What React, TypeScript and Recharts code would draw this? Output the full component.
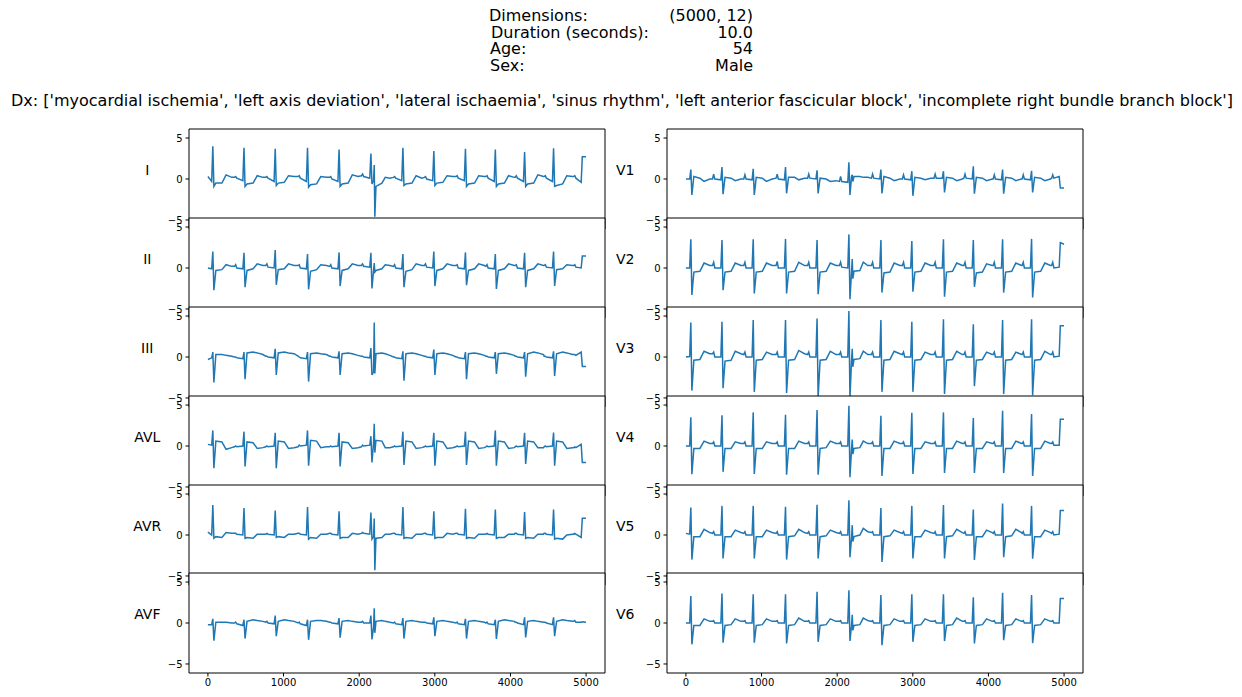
import React from 'react';
import { LineChart, Line, XAxis, YAxis, CartesianGrid, ReferenceArea } from 'recharts';

// sample indices of the traced knots, one row per beat (500 Hz, 5000 samples)
const sampleKnots = [
  [0, 50, 65, 79, 105, 185, 240, 315],
  [352, 367, 382, 462, 477, 491, 517, 597, 652, 727],
  [765, 780, 795, 875, 890, 904, 930, 1010, 1065, 1140],
  [1192, 1207, 1222, 1302, 1317, 1331, 1357, 1437, 1492, 1567],
  [1609, 1624, 1639, 1719, 1734, 1748, 1774, 1854, 1909, 1984],
  [2030, 2045, 2060, 2140, 2155, 2169, 2190, 2199, 2207, 2222, 2300, 2345, 2405],
  [2453, 2468, 2483, 2563, 2578, 2592, 2618, 2698, 2753, 2828],
  [2862, 2877, 2892, 2972, 2987, 3001, 3027, 3107, 3162, 3237],
  [3280, 3295, 3310, 3390, 3405, 3419, 3445, 3525, 3580, 3655],
  [3675, 3690, 3705, 3785, 3800, 3814, 3840, 3920, 3975, 4050],
  [4062, 4077, 4092, 4172, 4187, 4201, 4227, 4307, 4362, 4437],
  [4445, 4460, 4475, 4555, 4570, 4584, 4610, 4690, 4745, 4820],
  [4835, 4850, 4865, 4935, 4950, 4999],
];

const leadI = [
  [0.3, -0.3, 4.0, -0.9, -0.5, -0.5, 0.5, 0.2],
  [0.2, 0.3, 0.1, -0.2, 3.8, -0.9, -0.6, -0.5, 0.4, 0.2],
  [0.2, 0.3, 0.1, -0.3, 3.7, -0.8, -0.5, -0.4, 0.4, 0.3],
  [0.3, 0.4, 0.1, -0.3, 3.8, -1.0, -0.7, -0.6, 0.3, 0.2],
  [0.2, 0.3, 0.0, -0.3, 3.6, -0.9, -0.6, -0.5, 0.5, 0.3],
  [0.4, 0.6, 0.3, 0.1, 3.1, -0.6, -0.2, 1.7, -4.6, -0.9, -0.5, 0.2, 0.1],
  [0.2, 0.3, 0.1, -0.2, 3.8, -0.8, -0.6, -0.5, 0.4, 0.1],
  [0.2, 0.3, 0.0, -0.2, 3.4, -0.8, -0.5, -0.4, 0.4, 0.3],
  [0.3, 0.4, 0.1, -0.2, 3.7, -0.9, -0.6, -0.5, 0.4, 0.3],
  [0.3, 0.4, 0.1, -0.3, 3.6, -0.9, -0.6, -0.5, 0.4, 0.2],
  [0.2, 0.4, 0.1, -0.3, 3.3, -0.9, -0.6, -0.5, 0.5, 0.3],
  [0.3, 0.4, 0.1, -0.3, 3.75, -0.9, -0.8, -0.6, 0.4, 0.3],
  [0.3, 0.4, 0.1, -0.4, 2.7, 2.7],
];

const leadII = [
  [0.0, -0.1, 2.0, -2.7, -0.3, -0.2, 0.4, 0.2],
  [0.2, 0.4, 0.0, -0.1, 1.85, -2.35, -0.3, -0.1, 0.5, 0.3],
  [0.3, 0.5, 0.1, 0.0, 2.2, -2.05, -0.2, -0.1, 0.5, 0.3],
  [0.3, 0.4, 0.0, -0.1, 1.7, -2.6, -0.4, -0.2, 0.4, 0.3],
  [0.2, 0.4, 0.0, -0.1, 1.9, -2.2, -0.3, -0.1, 0.5, 0.3],
  [0.3, 0.5, 0.2, 0.1, 1.85, -2.5, -0.3, 0.6, -0.5, -0.3, -0.1, 0.4, 0.3],
  [0.2, 0.4, 0.0, -0.1, 1.7, -2.35, -0.4, -0.2, 0.5, 0.3],
  [0.3, 0.5, 0.1, 0.0, 2.0, -2.2, -0.3, -0.1, 0.5, 0.3],
  [0.3, 0.4, 0.0, -0.1, 1.9, -2.1, -0.3, -0.1, 0.5, 0.3],
  [0.2, 0.4, 0.0, -0.1, 1.7, -2.55, -0.3, -0.1, 0.5, 0.3],
  [0.3, 0.4, 0.0, -0.1, 1.85, -2.35, -0.3, -0.1, 0.5, 0.3],
  [0.3, 0.4, 0.1, 0.0, 2.0, -2.2, -0.2, -0.1, 0.4, 0.3],
  [0.3, 0.4, 0.1, 0.0, 1.45, 1.45],
];

const leadIII = [
  [-0.3, -0.1, 0.6, -3.1, 0.3, 0.3, 0.2, 0.1],
  [0.0, 0.0, -0.1, -0.2, 0.6, -2.7, 0.5, 0.6, 0.5, 0.3],
  [0.1, 0.1, 0.0, -0.1, 1.0, -2.2, 0.5, 0.6, 0.5, 0.4],
  [0.1, 0.0, -0.1, -0.2, 0.6, -3.0, 0.4, 0.5, 0.4, 0.3],
  [0.1, 0.1, 0.0, -0.1, 0.7, -2.2, 0.4, 0.5, 0.4, 0.2],
  [0.1, 0.1, 0.0, -0.1, 1.1, -2.2, -1.8, 4.2, -2.0, 0.4, 0.5, 0.4, 0.2],
  [0.0, 0.0, -0.1, -0.2, 0.7, -2.9, 0.4, 0.5, 0.4, 0.2],
  [0.1, 0.1, 0.0, -0.1, 0.9, -2.2, 0.4, 0.5, 0.4, 0.2],
  [0.0, 0.0, -0.1, -0.2, 0.6, -2.7, 0.4, 0.5, 0.4, 0.2],
  [0.1, 0.1, 0.0, -0.1, 0.6, -2.05, 0.4, 0.5, 0.4, 0.2],
  [0.1, 0.1, 0.0, -0.1, 0.6, -2.4, 0.4, 0.6, 0.5, 0.3],
  [0.1, 0.1, 0.0, -0.1, 0.7, -2.3, 0.4, 0.6, 0.5, 0.3],
  [0.3, 0.3, 0.2, 0.6, -1.15, -1.15],
];

const leadAVL = [
  [0.2, 0.1, 1.9, -2.7, 0.6, 0.5, -0.4, -0.2],
  [-0.1, 0.0, -0.1, 0.0, 1.75, -2.5, 0.5, 0.4, -0.3, -0.2],
  [-0.1, 0.0, -0.1, 0.0, 1.6, -2.7, 0.6, 0.5, -0.3, -0.2],
  [-0.1, 0.1, 0.0, 0.1, 1.9, -2.4, 0.7, 0.6, -0.2, -0.1],
  [-0.1, 0.0, -0.1, 0.0, 1.6, -2.5, 0.5, 0.4, -0.3, -0.2],
  [-0.1, 0.1, 0.0, 0.1, 1.2, -2.0, 0.4, 2.7, -0.8, 0.7, 0.6, -0.2, -0.2],
  [-0.1, 0.0, -0.1, 0.0, 1.75, -2.3, 0.6, 0.5, -0.3, -0.2],
  [-0.1, 0.0, -0.1, 0.0, 1.6, -2.4, 0.6, 0.5, -0.3, -0.2],
  [-0.1, 0.0, -0.1, 0.0, 1.75, -2.3, 0.6, 0.5, -0.3, -0.2],
  [-0.1, 0.0, -0.1, 0.0, 1.9, -2.4, 0.6, 0.5, -0.3, -0.2],
  [-0.1, 0.0, -0.1, 0.0, 1.6, -2.2, 0.6, 0.5, -0.2, -0.2],
  [-0.1, 0.0, -0.1, 0.0, 1.65, -2.4, 0.6, 0.5, -0.3, -0.2],
  [-0.2, -0.1, -0.2, 0.2, -2.0, -2.0],
];

const leadAVR = [
  [0.35, 0.0, 3.65, -0.4, -0.2, -0.3, 0.3, 0.2],
  [0.2, 0.2, 0.1, 0.0, 3.3, -0.4, -0.3, -0.4, 0.1, 0.1],
  [0.1, 0.2, 0.1, 0.0, 3.0, -0.3, -0.2, -0.3, 0.1, 0.1],
  [0.2, 0.2, 0.1, 0.0, 3.4, -0.5, -0.3, -0.4, 0.1, 0.1],
  [0.2, 0.2, 0.1, 0.0, 2.9, -0.4, -0.3, -0.3, 0.2, 0.1],
  [0.2, 0.3, 0.2, 0.1, 2.75, -0.5, -0.2, 2.0, -4.3, -0.4, -0.3, 0.1, 0.1],
  [0.2, 0.2, 0.1, 0.0, 3.4, -0.4, -0.3, -0.4, 0.1, 0.1],
  [0.2, 0.2, 0.1, 0.0, 2.9, -0.4, -0.3, -0.3, 0.2, 0.1],
  [0.2, 0.2, 0.1, 0.0, 3.2, -0.4, -0.3, -0.4, 0.1, 0.1],
  [0.1, 0.2, 0.1, 0.0, 3.1, -0.4, -0.3, -0.3, 0.1, 0.1],
  [0.2, 0.2, 0.1, 0.0, 2.8, -0.4, -0.3, -0.4, 0.1, 0.1],
  [0.2, 0.2, 0.1, 0.0, 3.1, -0.5, -0.4, -0.5, 0.0, 0.1],
  [0.1, 0.2, 0.1, -0.3, 2.05, 2.05],
];

const leadAVF = [
  [-0.2, -0.2, 0.5, -2.15, 0.1, 0.1, 0.1, 0.0],
  [0.0, 0.1, -0.1, -0.3, 0.4, -1.9, 0.2, 0.4, 0.3, 0.2],
  [0.1, 0.2, 0.0, -0.1, 0.9, -1.6, 0.2, 0.4, 0.3, 0.2],
  [0.0, 0.1, -0.1, -0.3, 0.4, -2.05, 0.2, 0.3, 0.3, 0.2],
  [0.1, 0.1, 0.0, -0.1, 0.6, -1.8, 0.2, 0.3, 0.2, 0.1],
  [0.1, 0.2, 0.0, 0.0, 0.9, -2.0, -0.5, 1.8, -1.2, 0.2, 0.3, 0.2, 0.1],
  [0.0, 0.1, -0.1, -0.2, 0.6, -1.9, 0.2, 0.3, 0.2, 0.1],
  [0.1, 0.1, 0.0, -0.1, 0.7, -1.6, 0.2, 0.3, 0.2, 0.1],
  [0.0, 0.1, -0.1, -0.2, 0.5, -1.9, 0.2, 0.3, 0.2, 0.1],
  [0.0, 0.1, -0.1, -0.2, 0.4, -1.95, 0.2, 0.4, 0.3, 0.2],
  [0.1, 0.1, 0.0, -0.2, 0.7, -1.75, 0.2, 0.3, 0.2, 0.1],
  [0.1, 0.1, 0.0, -0.2, 0.7, -1.6, 0.2, 0.4, 0.3, 0.2],
  [0.2, 0.3, 0.1, 0.1, 0.15, 0.1],
];

const leadV1 = [
  [0.0, 0.0, 1.15, -1.95, 0.3, 0.1, -0.3, 0.0],
  [0.0, 0.6, 0.0, -0.1, 1.45, -1.85, 0.2, 0.1, -0.2, 0.0],
  [0.0, 0.5, 0.0, -0.1, 1.25, -1.95, 0.2, 0.1, -0.3, 0.0],
  [0.1, 0.6, 0.0, -0.1, 1.45, -1.75, 0.2, 0.2, -0.1, 0.1],
  [0.1, 0.6, 0.1, 0.0, 1.05, -1.75, 0.1, 0.0, -0.3, -0.2],
  [-0.3, 0.3, -0.3, -0.4, 2.05, -1.95, 0.3, 0.5, -0.3, 0.3, 0.3, 0.2, 0.2],
  [0.1, 0.6, 0.1, 0.0, 1.15, -1.75, 0.3, 0.1, -0.2, 0.0],
  [0.0, 0.5, 0.0, -0.1, 0.95, -2.05, 0.2, 0.1, -0.1, 0.1],
  [0.1, 0.6, 0.1, 0.1, 0.95, -1.65, 0.2, 0.1, -0.2, 0.0],
  [0.1, 0.6, 0.1, 0.0, 1.55, -1.8, 0.2, 0.1, -0.2, 0.0],
  [0.0, 0.5, 0.0, -0.1, 1.15, -1.8, 0.2, 0.1, -0.2, 0.0],
  [0.0, 0.5, 0.0, -0.1, 1.0, -1.65, 0.2, 0.1, -0.2, 0.0],
  [0.1, 0.5, 0.1, 0.3, -1.1, -1.1],
];

const leadV2 = [
  [0.0, 0.0, 3.5, -3.3, -0.5, -0.4, 0.6, 0.3],
  [0.3, 0.7, 0.0, 0.0, 3.4, -2.7, -0.5, -0.4, 0.6, 0.3],
  [0.3, 0.7, 0.0, 0.0, 3.5, -3.1, -0.5, -0.4, 0.6, 0.3],
  [0.3, 0.8, 0.0, 0.0, 3.55, -3.1, -0.5, -0.4, 0.7, 0.3],
  [0.3, 0.7, 0.0, 0.0, 3.4, -3.2, -0.5, -0.4, 0.6, 0.3],
  [0.3, 0.7, 0.1, 0.0, 4.1, -3.8, -0.4, 1.1, -1.3, -0.4, -0.3, 0.7, 0.3],
  [0.3, 0.7, 0.0, 0.0, 3.4, -3.0, -0.6, -0.5, 0.6, 0.3],
  [0.3, 0.7, 0.0, 0.0, 3.3, -2.9, -0.5, -0.4, 0.6, 0.3],
  [0.3, 0.7, 0.0, 0.0, 3.5, -3.5, -0.5, -0.4, 0.6, 0.3],
  [0.3, 0.7, 0.0, 0.0, 3.4, -2.3, -0.6, -0.5, 0.5, 0.3],
  [0.3, 0.7, 0.0, 0.0, 3.5, -3.0, -0.5, -0.4, 0.6, 0.3],
  [0.3, 0.7, 0.0, 0.0, 3.55, -3.6, -0.5, -0.4, 0.6, 0.3],
  [0.3, 0.7, 0.0, 0.1, 3.1, 2.9],
];

const leadV3 = [
  [0.0, 0.05, 4.2, -4.1, -0.4, -0.3, 0.7, 0.4],
  [0.4, 0.6, 0.0, 0.0, 4.3, -3.8, -0.5, -0.4, 0.7, 0.4],
  [0.3, 0.6, 0.0, 0.0, 4.5, -4.25, -0.4, -0.3, 0.6, 0.3],
  [0.3, 0.6, 0.0, 0.0, 4.5, -4.4, -0.4, -0.3, 0.8, 0.4],
  [0.3, 0.6, 0.0, 0.0, 4.7, -4.9, -0.4, -0.3, 0.7, 0.3],
  [0.3, 0.6, 0.0, 0.0, 5.6, -5.0, -0.3, 1.0, -1.2, -0.3, -0.2, 0.7, 0.3],
  [0.3, 0.6, 0.0, 0.0, 4.5, -4.25, -0.4, -0.3, 0.7, 0.4],
  [0.3, 0.6, 0.0, 0.0, 4.3, -4.25, -0.4, -0.3, 0.6, 0.3],
  [0.3, 0.6, 0.0, 0.0, 4.6, -4.5, -0.4, -0.3, 0.7, 0.3],
  [0.3, 0.6, 0.0, 0.0, 4.0, -3.55, -0.4, -0.3, 0.6, 0.3],
  [0.3, 0.6, 0.0, 0.0, 4.5, -4.5, -0.4, -0.3, 0.6, 0.3],
  [0.3, 0.6, 0.0, 0.0, 4.6, -4.65, -0.4, -0.3, 0.7, 0.3],
  [0.3, 0.6, 0.0, 0.1, 3.8, 3.8],
];

const leadV4 = [
  [0.0, 0.0, 3.5, -3.45, -0.3, -0.3, 0.6, 0.3],
  [0.3, 0.5, 0.0, 0.0, 3.75, -3.15, -0.3, -0.3, 0.5, 0.3],
  [0.3, 0.5, 0.0, 0.0, 4.1, -3.4, -0.3, -0.3, 0.5, 0.3],
  [0.3, 0.5, 0.0, 0.0, 3.8, -3.5, -0.3, -0.3, 0.6, 0.3],
  [0.3, 0.5, 0.0, 0.0, 4.4, -3.5, -0.3, -0.2, 0.6, 0.3],
  [0.3, 0.5, 0.0, 0.0, 4.9, -3.8, -0.3, 0.8, -1.0, -0.3, -0.2, 0.6, 0.3],
  [0.3, 0.5, 0.0, 0.0, 3.7, -3.65, -0.3, -0.3, 0.6, 0.3],
  [0.3, 0.5, 0.0, 0.0, 4.05, -3.4, -0.3, -0.3, 0.5, 0.3],
  [0.3, 0.5, 0.0, 0.0, 4.1, -3.3, -0.3, -0.3, 0.6, 0.3],
  [0.3, 0.5, 0.0, 0.0, 3.4, -3.3, -0.3, -0.3, 0.5, 0.3],
  [0.3, 0.5, 0.0, 0.0, 4.3, -3.3, -0.3, -0.3, 0.6, 0.3],
  [0.3, 0.5, 0.0, 0.0, 3.9, -3.65, -0.3, -0.3, 0.6, 0.3],
  [0.3, 0.5, 0.1, 0.1, 3.25, 3.25],
];

const leadV5 = [
  [0.2, 0.1, 3.35, -3.0, -0.2, -0.2, 0.7, 0.3],
  [0.2, 0.4, 0.0, 0.0, 3.55, -2.85, -0.2, -0.2, 0.6, 0.3],
  [0.2, 0.4, 0.0, 0.0, 3.55, -2.85, -0.2, -0.2, 0.6, 0.3],
  [0.2, 0.4, 0.0, 0.0, 3.45, -3.0, -0.2, -0.1, 0.7, 0.3],
  [0.2, 0.4, 0.0, 0.0, 3.7, -2.85, -0.2, -0.1, 0.6, 0.3],
  [0.2, 0.4, 0.0, 0.0, 4.25, -2.7, -0.3, 1.2, -0.8, -0.2, 0.0, 0.8, 0.4],
  [0.3, 0.4, 0.0, 0.0, 3.3, -3.3, -0.2, -0.1, 0.6, 0.3],
  [0.2, 0.4, 0.0, 0.0, 3.55, -2.85, -0.2, -0.2, 0.6, 0.3],
  [0.2, 0.4, 0.0, 0.0, 3.65, -2.85, -0.2, -0.1, 0.7, 0.3],
  [0.2, 0.4, 0.0, 0.0, 3.1, -3.05, -0.2, -0.2, 0.6, 0.3],
  [0.2, 0.4, 0.0, 0.0, 3.85, -2.7, -0.2, -0.1, 0.7, 0.3],
  [0.2, 0.4, 0.0, 0.0, 3.55, -2.9, -0.2, -0.2, 0.6, 0.3],
  [0.2, 0.4, 0.0, 0.1, 3.0, 3.0],
];

const leadV6 = [
  [0.0, 0.0, 3.3, -2.6, -0.3, -0.3, 0.5, 0.2],
  [0.2, 0.3, 0.0, 0.0, 3.6, -2.4, -0.3, -0.2, 0.5, 0.2],
  [0.2, 0.3, 0.0, 0.0, 3.5, -2.4, -0.3, -0.2, 0.5, 0.2],
  [0.2, 0.3, 0.0, 0.0, 3.5, -2.5, -0.3, -0.2, 0.6, 0.2],
  [0.2, 0.3, 0.0, 0.0, 3.8, -2.3, -0.3, -0.2, 0.5, 0.2],
  [0.2, 0.3, 0.0, 0.0, 4.0, -2.2, -0.3, 1.0, -0.9, -0.3, -0.2, 0.6, 0.3],
  [0.2, 0.3, 0.0, 0.0, 3.4, -2.7, -0.3, -0.2, 0.5, 0.2],
  [0.2, 0.3, 0.0, 0.0, 3.5, -2.3, -0.3, -0.2, 0.5, 0.2],
  [0.2, 0.3, 0.0, 0.0, 3.5, -2.2, -0.3, -0.2, 0.6, 0.2],
  [0.2, 0.3, 0.0, 0.0, 3.15, -2.5, -0.3, -0.2, 0.5, 0.2],
  [0.2, 0.3, 0.0, 0.0, 3.7, -2.1, -0.3, -0.2, 0.5, 0.2],
  [0.2, 0.3, 0.0, 0.0, 3.4, -2.45, -0.3, -0.2, 0.5, 0.2],
  [0.2, 0.3, 0.0, 0.0, 3.0, 3.0],
];

const leftLeads = ['I', 'II', 'III', 'AVL', 'AVR', 'AVF'];
const rightLeads = ['V1', 'V2', 'V3', 'V4', 'V5', 'V6'];
const xTicks = [0, 1000, 2000, 3000, 4000, 5000];
const yTicks = [-5, 0, 5];

const titleRows = [
  ['Dimensions:', '(5000, 12)'],
  ['Duration (seconds):', '10.0'],
  ['Age:', '54'],
  ['Sex:', 'Male'],
];
const titleLeft = [489, 491, 490, 490];
const dxLine =
  "Dx: ['myocardial ischemia', 'left axis deviation', 'lateral ischaemia', 'sinus rhythm', 'left anterior fascicular block', 'incomplete right bundle branch block']";

const leadRows: Record<string, number[][]> = {
  I: leadI, II: leadII, III: leadIII, AVL: leadAVL, AVR: leadAVR, AVF: leadAVF,
  V1: leadV1, V2: leadV2, V3: leadV3, V4: leadV4, V5: leadV5, V6: leadV6,
};

const knots = sampleKnots.flat();
const flatLeads: Record<string, number[]> = {};
Object.keys(leadRows).forEach((k) => { flatLeads[k] = leadRows[k].flat(); });

const table = knots.map((x, i) => {
  const row: Record<string, number> = { x };
  Object.keys(flatLeads).forEach((k) => { row[k] = flatLeads[k][i]; });
  return row;
});

// layout (px)
const PLOT_W = 416;
const STEP = 88.8;
const TOP0 = 129.3;
const COL_LEFT = [189.3, 667.3];
const Y_MAX = 6.1;
const X_DOM: [number, number] = [-250, 5250];
const BLUE = '#1f77b4';
const FONT = "'DejaVu Sans', sans-serif";

const fmt = (v: number) => String(v).replace('-', '\u2212');

const Panel = ({ lead, left, top, bottom }: { lead: string; left: number; top: number; bottom: boolean }) => (
  <div style={{ position: 'absolute', left: left - 60, top: top - 10 }}>
    <LineChart
      width={60 + PLOT_W + 10}
      height={bottom ? 140 : 120}
      data={table}
      margin={{ top: 10, right: 10, left: 0, bottom: bottom ? 0 : 10 }}
    >
      <CartesianGrid horizontal={false} vertical={false} fill="#fff" />
      <XAxis
        dataKey="x"
        type="number"
        domain={X_DOM}
        ticks={xTicks}
        interval={0}
        allowDataOverflow
        hide={!bottom}
        height={30}
        axisLine={false}
        tickSize={3.5}
        tickMargin={2}
        tickLine={{ stroke: '#000' }}
        tick={{ fontSize: 10, fill: '#000' }}
      />
      <YAxis
        type="number"
        domain={[-Y_MAX, Y_MAX]}
        ticks={yTicks}
        interval={0}
        allowDataOverflow
        width={60}
        axisLine={false}
        tickSize={3.5}
        tickMargin={3}
        tickLine={{ stroke: '#000' }}
        tick={{ fontSize: 10, fill: '#000' }}
        tickFormatter={fmt}
      />
      <ReferenceArea x1={X_DOM[0]} x2={X_DOM[1]} y1={-Y_MAX} y2={Y_MAX} fill="none" stroke="#000" strokeWidth={1} />
      <Line dataKey={lead} type="linear" stroke={BLUE} strokeWidth={1.5} dot={false} isAnimationActive={false} />
    </LineChart>
  </div>
);

export default function App() {
  return (
    <div style={{ position: 'absolute', left: 0, top: 0, width: 1242, height: 697, background: '#fff', fontFamily: FONT }}>
      {[leftLeads, rightLeads].map((col, c) =>
        col.map((lead, i) => (
          <Panel key={lead} lead={lead} left={COL_LEFT[c]} top={TOP0 + i * STEP} bottom={i === col.length - 1} />
        ))
      )}
      <svg width={1242} height={697} style={{ position: 'absolute', left: 0, top: 0, pointerEvents: 'none' }}>
        {titleRows.map(([k, v], i) => (
          <g key={k} fontSize={16} fill="#000" fontFamily={FONT}>
            <text x={titleLeft[i]} y={21 + i * 16.7}>{k}</text>
            <text x={753} y={21 + i * 16.7} textAnchor="end">{v}</text>
          </g>
        ))}
        <text x={622} y={106} fontSize={16} textAnchor="middle" fontFamily={FONT}>{dxLine}</text>
        {[leftLeads, rightLeads].map((col, c) =>
          col.map((lead, i) => (
            <text key={lead} x={COL_LEFT[c] - 42} y={TOP0 + i * STEP + 46} fontSize={14} textAnchor="middle" fontFamily={FONT}>
              {lead}
            </text>
          ))
        )}
      </svg>
    </div>
  );
}
